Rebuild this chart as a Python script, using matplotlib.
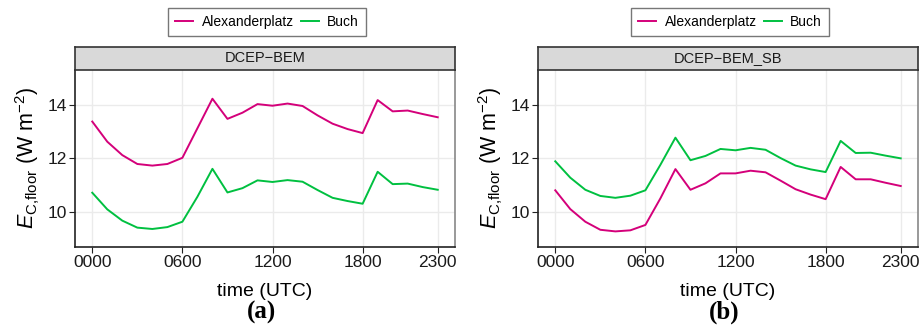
import matplotlib
matplotlib.use("Agg")
from matplotlib import pyplot as plt
import numpy as np

plt.rcParams['font.family'] = ['Liberation Sans', 'DejaVu Sans']
plt.rcParams['mathtext.fontset'] = 'custom'
plt.rcParams['mathtext.rm'] = 'Liberation Sans'
plt.rcParams['mathtext.it'] = 'Liberation Sans:italic'

# Hourly cooling flux, two model set-ups
hours = np.arange(24)
xtick_pos = [0, 6, 12, 18, 23]
xtick_labels = ["0000", "0600", "1200", "1800", "2300"]
ytick_pos = [10, 12, 14]

bem_alex = [13.37, 12.62, 12.12, 11.79, 11.73, 11.79, 12.02, 13.12, 14.22, 13.47,
            13.70, 14.02, 13.96, 14.04, 13.95, 13.60, 13.29, 13.09, 12.94, 14.17,
            13.75, 13.78, 13.65, 13.53]
bem_buch = [10.72, 10.10, 9.68, 9.42, 9.37, 9.44, 9.64, 10.57, 11.61, 10.73,
            10.89, 11.18, 11.12, 11.19, 11.13, 10.82, 10.53, 10.41, 10.31, 11.50,
            11.04, 11.06, 10.93, 10.83]
sb_alex = [10.81, 10.11, 9.64, 9.34, 9.28, 9.32, 9.52, 10.51, 11.60, 10.83,
           11.07, 11.44, 11.44, 11.54, 11.48, 11.17, 10.85, 10.65, 10.48, 11.68,
           11.22, 11.22, 11.09, 10.97]
sb_buch = [11.89, 11.28, 10.83, 10.60, 10.53, 10.61, 10.81, 11.76, 12.77, 11.93,
           12.09, 12.35, 12.30, 12.39, 12.32, 12.01, 11.73, 11.59, 11.49, 12.65,
           12.20, 12.21, 12.10, 12.00]

panels = [("DCEP\u2212BEM", bem_alex, bem_buch, "(a)"),
          ("DCEP\u2212BEM_SB", sb_alex, sb_buch, "(b)")]

col_alex = "#d4007a"
col_buch = "#00c040"

fig = plt.figure(figsize=(9.22, 3.27), dpi=100)
W, H = 922.0, 327.0
lefts = [75, 538]
width = 380

for left, (title, alex, buch, tag) in zip(lefts, panels):
    ax = fig.add_axes([left / W, 1 - 246.7 / H, width / W, 176.7 / H])
    ax.plot(hours, alex, color=col_alex, lw=1.4, label="Alexanderplatz")
    ax.plot(hours, buch, color=col_buch, lw=1.4, label="Buch")
    ax.set_xlim(-1.15, 24.15)
    ax.set_ylim(8.71, 15.29)
    ax.set_xticks(xtick_pos)
    ax.set_xticklabels(xtick_labels)
    ax.set_yticks(ytick_pos)
    ax.grid(True, color="#ebebeb", lw=1.0)
    ax.set_axisbelow(True)
    ax.tick_params(direction="out", length=4, width=0.8, labelsize=12.5,
                   colors="#222222", labelcolor="#1a1a1a", pad=2)
    ax.spines["top"].set_visible(False)
    ax.spines["right"].set_color("#888888")
    ax.spines["right"].set_linewidth(1.2)
    for s in ("left", "bottom"):
        ax.spines[s].set_color("#222222")
        ax.spines[s].set_linewidth(1.2)
    ax.set_xlabel("time (UTC)", fontsize=14, labelpad=9)
    ax.set_ylabel(r"$E_{\mathrm{C{,}floor}}$ (W m$^{-2}$)", fontsize=15.5, labelpad=4)

    # facet strip
    strip = fig.add_axes([left / W, 1 - 70 / H, width / W, 23 / H])
    strip.set_facecolor("#d9d9d9")
    strip.set_xticks([])
    strip.set_yticks([])
    for s in strip.spines.values():
        s.set_color("#333333")
        s.set_linewidth(1.2)
    strip.text(0.5, 0.5, title, ha="center", va="center", fontsize=10.5,
               color="#1a1a1a", transform=strip.transAxes)

    # legend above the strip
    handles, labels = ax.get_legend_handles_labels()
    fig.legend(handles, labels, loc="center",
               bbox_to_anchor=((left + width / 2 + 2) / W, 1 - 22 / H),
               ncol=2, fontsize=10, frameon=True, fancybox=False,
               edgecolor="#555555", handlelength=1.3, handletextpad=0.6,
               columnspacing=0.5, borderpad=0.5)

    fig.text((left + 186) / W, 1 - 312 / H, tag, ha="center", va="center",
             fontsize=18, fontweight="bold", family="Liberation Serif")

fig.savefig("out.png", dpi=100)
